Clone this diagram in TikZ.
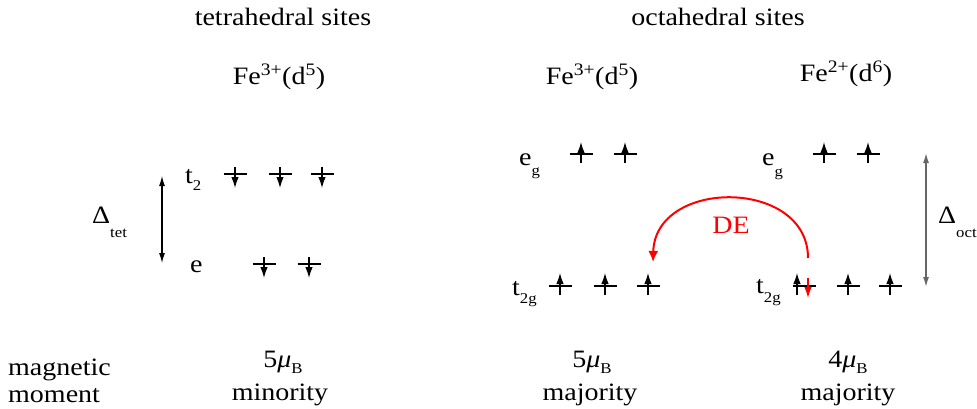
\documentclass[tikz,border=0pt]{standalone}
\usepackage{fontspec}
\setmainfont{Liberation Serif}[FakeStretch=1.12]
\usetikzlibrary{arrows.meta}
\definecolor{cred}{HTML}{FF0000}
\definecolor{cgrey}{HTML}{666666}
\tikzset{
  every picture/.style={font=\fontsize{25}{29}\selectfont},
  level/.style={line width=1.1pt},
  spin/.style={-{Latex[length=11pt,width=7.5pt]}, line width=1.3pt},
  gap/.style={{Latex[length=10pt,width=6pt]}-{Latex[length=10pt,width=6pt]}, line width=1.1pt},
  hop/.style={-{Latex[length=11pt,width=10pt]}, draw=cred, line width=2pt},
  label/.style={inner sep=0pt, anchor=base west},
  heading/.style={inner sep=0pt, anchor=base},
}
\newcommand\lsub[2]{\raisebox{-#1pt}{\fontsize{15}{15}\selectfont #2}}

\begin{document}
\begin{tikzpicture}[x=1pt, y=-1pt]
  \useasboundingbox (0,0) rectangle (977,409);
  % headings
  \node[heading] (tet) at (283,26) {tetrahedral sites};
  \node[heading] (oct) at (718,26) {octahedral sites};
  \node[heading] (fe-tet) at (279,85) {Fe\textsuperscript{3+}(d\textsuperscript{5})};
  \node[heading] (fe3-oct) at (592,85) {Fe\textsuperscript{3+}(d\textsuperscript{5})};
  \node[heading] (fe2-oct) at (846,82) {Fe\textsuperscript{2+}(d\textsuperscript{6})};
  % tetrahedral Fe3+
  \node[label] (t2) at (185,183) {t\lsub{7}{2}};
  \node[label] (e) at (190,272) {e};
  \foreach \x in {235,280,322} {
    \draw[level] (\x-11.5,174) -- (\x+11.5,174);
    \draw[spin] (\x,167) -- (\x,188);
  }
  \foreach \x in {264,309} {
    \draw[level] (\x-11.5,264) -- (\x+11.5,264);
    \draw[spin] (\x,257) -- (\x,278);
  }
  \node[label] (dtet) at (92,223) {Δ\lsub{14}{tet}};
  \coordinate (gt-top) at (162,176);
  \coordinate (gt-bot) at (162,263);
  \draw[gap] (gt-top) -- (gt-bot);
  % octahedral Fe3+
  \node[label] (eg3) at (519,165) {e\lsub{10}{g}};
  \node[label] (t2g3) at (512,295) {t\lsub{8}{2g}};
  \foreach \x in {581,625} {
    \draw[level] (\x-11.5,154) -- (\x+11.5,154);
    \draw[spin] (\x,163) -- (\x,142);
  }
  \foreach \x in {560,605,648} {
    \draw[level] (\x-11.5,286) -- (\x+11.5,286);
    \draw[spin] (\x,295) -- (\x,273);
  }
  % octahedral Fe2+
  \node[label] (eg2) at (762,165) {e\lsub{11}{g}};
  \node[label] (t2g2) at (756,293) {t\lsub{9}{2g}};
  \foreach \x in {824,868} {
    \draw[level] (\x-11.5,154) -- (\x+11.5,154);
    \draw[spin] (\x,163) -- (\x,142);
  }
  \foreach \x in {804,848,890} \draw[level] (\x-11.5,286) -- (\x+11.5,286);
  \foreach \x in {848,890} \draw[spin] (\x,295) -- (\x,273);
  \draw[spin] (797,295) -- (797,273);
  \draw[spin, cred] (808,278) -- (808,298);
  \node[label] (doct) at (938,223) {Δ\lsub{14}{oct}};
  \coordinate (go-top) at (926,153);
  \coordinate (go-bot) at (926,287);
  \draw[gap, cgrey, line width=1.5pt] (go-top) -- (go-bot);
  % double exchange
  \coordinate (de-from) at (808,258);
  \coordinate (de-to) at (653,262);
  \draw[hop] (de-from) .. controls (808,178) and (655,178) .. (de-to);
  \node[heading, text=cred] (de) at (731,233) {DE};
  % magnetic moments
  \node[label] (mag) at (8,375) {magnetic};
  \node[label] (mom) at (8,402) {moment};
  \node[heading] (mu-tet) at (283,367) {5\textit{μ}\lsub{6}{B}};
  \node[heading] (min) at (280,400) {minority};
  \node[heading] (mu3) at (592,367) {5\textit{μ}\lsub{6}{B}};
  \node[heading] (maj3) at (590,400) {majority};
  \node[heading] (mu2) at (848,367) {4\textit{μ}\lsub{6}{B}};
  \node[heading] (maj2) at (848,400) {majority};
\end{tikzpicture}
\end{document}
